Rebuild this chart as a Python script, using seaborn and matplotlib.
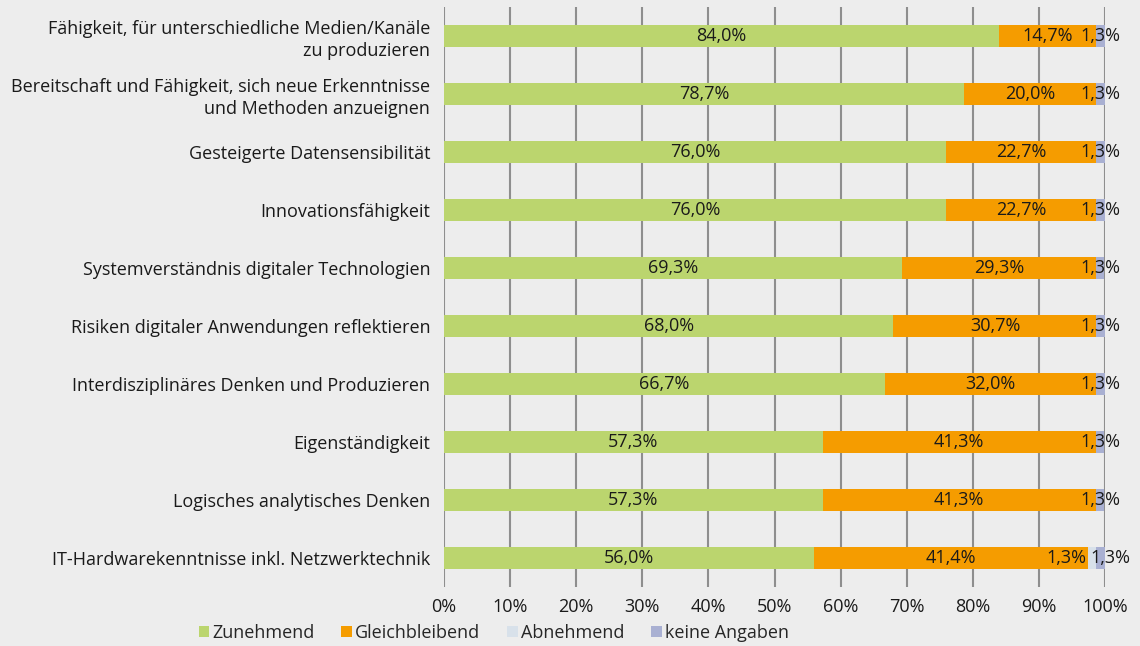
import matplotlib
matplotlib.use("Agg")
import matplotlib.pyplot as plt
from matplotlib.patches import Patch
import seaborn as sns
import pandas as pd
import numpy as np

categories = [
    "Fähigkeit, für unterschiedliche Medien/Kanäle\nzu produzieren",
    "Bereitschaft und Fähigkeit, sich neue Erkenntnisse\nund Methoden anzueignen",
    "Gesteigerte Datensensibilität",
    "Innovationsfähigkeit",
    "Systemverständnis digitaler Technologien",
    "Risiken digitaler Anwendungen reflektieren",
    "Interdisziplinäres Denken und Produzieren",
    "Eigenständigkeit",
    "Logisches analytisches Denken",
    "IT-Hardwarekenntnisse inkl. Netzwerktechnik",
]
zunehmend = [84.0, 78.7, 76.0, 76.0, 69.3, 68.0, 66.7, 57.3, 57.3, 56.0]
gleichbleibend = [14.7, 20.0, 22.7, 22.7, 29.3, 30.7, 32.0, 41.3, 41.3, 41.4]
abnehmend = [0.0, 0.0, 0.0, 0.0, 0.0, 0.0, 0.0, 0.0, 0.0, 1.3]
keine_angaben = [1.3, 1.3, 1.3, 1.3, 1.3, 1.3, 1.3, 1.3, 1.3, 1.3]
series_names = ["Zunehmend", "Gleichbleibend", "Abnehmend", "keine Angaben"]
xticks = [0, 10, 20, 30, 40, 50, 60, 70, 80, 90, 100]

colors = ["#BBD56E", "#F59C00", "#D8E1EA", "#A9B0D2"]
bg = "#EDEDED"
grid_c = "#8E8E8E"
FS = 13

sns.set_theme(style="white")
plt.rcParams["font.family"] = ["Open Sans", "DejaVu Sans"]

fig = plt.figure(figsize=(11.4, 6.46), dpi=100, facecolor=bg)
ax = fig.add_axes([0.3895, 0.0913, 0.5798, 0.898])
ax.set_facecolor(bg)

vals = np.array([zunehmend, gleichbleibend, abnehmend, keine_angaben])
cum = np.cumsum(vals, axis=0)

df = pd.DataFrame({"cat": categories})
for i in range(3, -1, -1):
    df["v"] = cum[i]
    sns.barplot(data=df, x="v", y="cat", orient="h", color=colors[i],
                saturation=1, width=0.38, ax=ax, zorder=3, linewidth=0)

ax.set_xlim(0, 100)
ax.set_ylim(len(categories) - 0.5, -0.5)
ax.set_xticks(xticks)
ax.set_xticklabels([f"{t}%" for t in xticks], fontsize=FS, color="#1a1a1a")
ax.tick_params(axis="x", length=0, pad=8)
ax.tick_params(axis="y", length=0, pad=10)
for lbl in ax.get_yticklabels():
    lbl.set_fontsize(FS)
    lbl.set_color("#1a1a1a")
    lbl.set_horizontalalignment("right")
    lbl.set_linespacing(1.3)
ax.set_xlabel("")
ax.set_ylabel("")
for t in xticks:
    ax.axvline(t, color=grid_c, lw=1.5, zorder=1)
for s in ax.spines.values():
    s.set_visible(False)

def fmt(v):
    return f"{v:.1f}%".replace(".", ",")

for j in range(len(categories)):
    starts = [0.0] + list(cum[:-1, j])
    has_abn = vals[2, j] > 0
    for i in range(4):
        v = vals[i, j]
        if v <= 0:
            continue
        if i == 2:
            ax.text(starts[i] - 0.2, j, fmt(v), ha="right", va="center",
                    fontsize=FS, color="#1a1a1a", zorder=5)
        elif i == 3 and has_abn:
            ax.text(starts[2] + 0.4, j, fmt(v), ha="left", va="center",
                    fontsize=FS, color="#1a1a1a", zorder=5)
        else:
            ax.text(starts[i] + v / 2, j, fmt(v), ha="center", va="center",
                    fontsize=FS, color="#1a1a1a", zorder=5)

handles = [Patch(facecolor=c, edgecolor="none") for c in colors]
fig.legend(handles, series_names, loc="center", bbox_to_anchor=(0.433, 0.02),
           ncol=4, frameon=False, fontsize=FS, handlelength=0.6,
           handleheight=0.6, handletextpad=0.15, columnspacing=1.5,
           borderaxespad=0)

fig.savefig("out.png", dpi=100, facecolor=bg)
